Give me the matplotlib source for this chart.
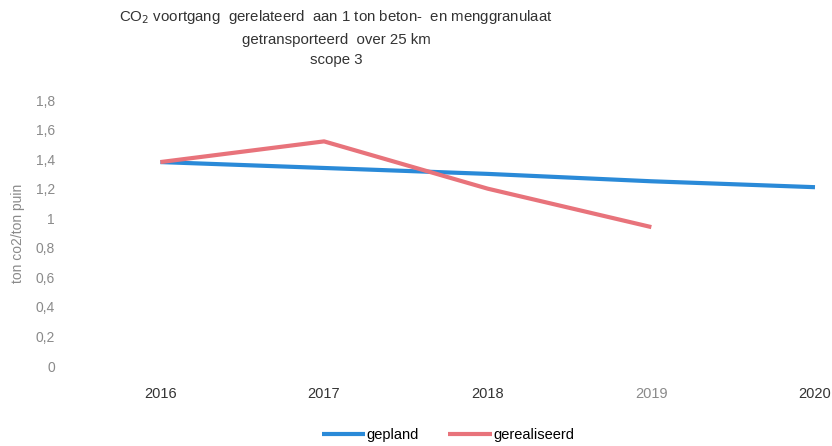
import matplotlib
matplotlib.use("Agg")
import matplotlib.pyplot as plt

years = [2016, 2017, 2018, 2019, 2020]
gepland = [1.38, 1.34, 1.30, 1.25, 1.21]
real_years = [2016, 2017, 2018, 2019]
gerealiseerd = [1.38, 1.52, 1.20, 0.94]
yticks = [0, 0.2, 0.4, 0.6, 0.8, 1.0, 1.2, 1.4, 1.6, 1.8]
ytick_labels = ["0", "0,2", "0,4", "0,6", "0,8", "1", "1,2", "1,4", "1,6", "1,8"]
title = "CO$_2$ voortgang  gerelateerd  aan 1 ton beton-  en menggranulaat\ngetransporteerd  over 25 km\nscope 3"

plt.rcParams['font.family'] = ['Liberation Sans', 'DejaVu Sans']

fig = plt.figure(figsize=(8.32, 4.46), dpi=100)
ax = fig.add_axes([55/832, 1 - 366/446, (818-55)/832, (366-100)/446])

blue = '#2a8ad8'
red = '#e8737b'
ax.plot(years, gepland, color=blue, lw=3, label='gepland', solid_capstyle='butt')
ax.plot(real_years, gerealiseerd, color=red, lw=3, label='gerealiseerd', solid_capstyle='butt')

ax.set_ylim(0, 1.8)
ax.set_xlim(2016 - 105/163, 2020 + 3/163)
ax.set_yticks(yticks)
ax.set_yticklabels(ytick_labels, color='#8a8a8a', fontsize=10)
ax.set_xticks(years)
ax.set_xticklabels([str(y) for y in years], fontsize=10.5, color='#333333')
ax.get_xticklabels()[3].set_color('#8a8a8a')
ax.tick_params(axis='both', length=0)
ax.tick_params(axis='x', pad=15)
ax.tick_params(axis='y', pad=0)
for s in ax.spines.values():
    s.set_visible(False)

ax.set_ylabel('ton co2/ton puin', color='#8a8a8a', fontsize=10, labelpad=8)

fig.text(336/832, 1 - 8/446, title, ha='center', va='top', fontsize=10.8,
         color='#333333', linespacing=1.6)

fig.legend(loc='center', bbox_to_anchor=(448/832, 1 - 435/446), ncol=2,
           frameon=False, fontsize=10.5, handlelength=3.0, handletextpad=0.1,
           columnspacing=2.0)

fig.savefig('out.png', dpi=100)
